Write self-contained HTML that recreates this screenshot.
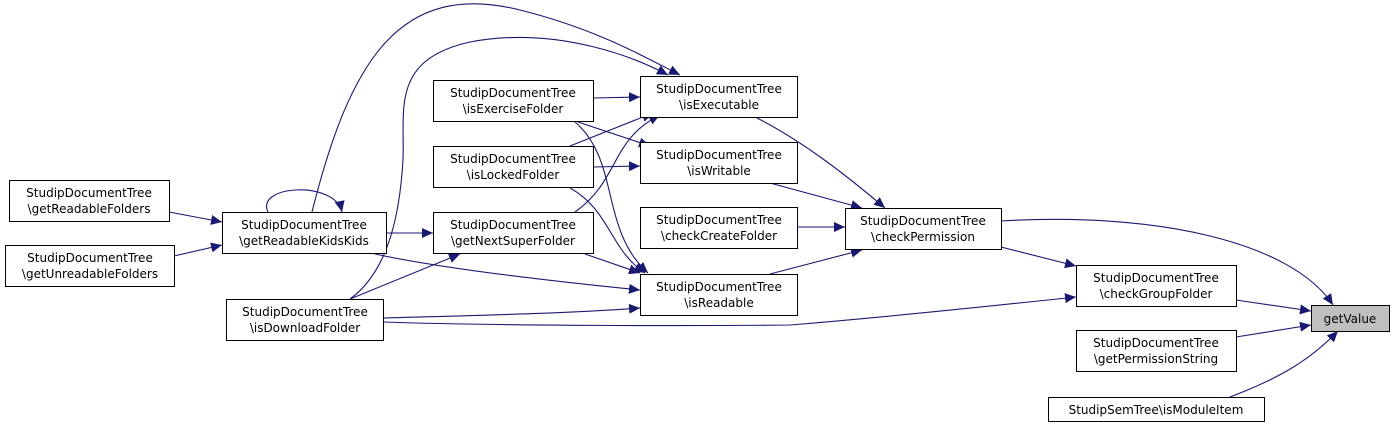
<!DOCTYPE html>
<html><head><meta charset="utf-8"><style>
html,body{margin:0;padding:0;background:#fff;}
svg{display:block;}
text{font-family:"DejaVu Sans","Liberation Sans",sans-serif;font-size:12px;fill:#000;}
</style></head><body>
<svg width="1395" height="428" viewBox="0 0 1395 428" xmlns="http://www.w3.org/2000/svg">
<defs>
<marker id="a" markerUnits="userSpaceOnUse" markerWidth="12" markerHeight="10" refX="11" refY="5" orient="auto">
<path d="M0,0 L11,5 L0,10 Z" fill="#191970"/>
</marker>
</defs>
<g fill="none" stroke="#191970" stroke-width="1.1" marker-end="url(#a)">
<path d="M593,98 L640,97"/>
<path d="M578,122 L650,146"/>
<path d="M575,122 C620,160 600,230 648,273"/>
<path d="M570,146 L653,113"/>
<path d="M593,167 L640,166"/>
<path d="M570,188 C610,210 610,250 645,273"/>
<path d="M575,212 C620,180 610,140 660,115"/>
<path d="M585,254 L640,273"/>
<path d="M386,233 L433,233"/>
<path d="M375,254 C450,270 560,282 640,290"/>
<path d="M268,212 C255,185 335,180 342,212"/>
<path d="M312,212 C350,60 400,-20 520,10 C600,30 650,60 680,75"/>
<path d="M350,299 C390,270 400,210 403,160 C405,110 390,60 470,42 C560,25 640,60 668,75"/>
<path d="M350,299 L460,254"/>
<path d="M383,318 C450,316 560,314 640,308"/>
<path d="M383,322 C500,326 700,326 790,325 C900,316 1000,305 1076,297"/>
<path d="M169,212 L222,222"/>
<path d="M174,256 L222,245"/>
<path d="M757,118 C800,140 840,170 885,208"/>
<path d="M770,183 L862,208"/>
<path d="M797,227 L845,227"/>
<path d="M770,274 L862,250"/>
<path d="M1001,221 C1150,212 1290,240 1333,305"/>
<path d="M1001,247 L1076,266"/>
<path d="M1236,300 L1311,311"/>
<path d="M1236,337 L1311,325"/>
<path d="M1230,397 C1280,378 1310,360 1338,331"/>
</g>
<g stroke="#000" stroke-width="1" fill="#fff">
<rect x="433.5" y="80.5" width="160" height="41"/>
<rect x="433.5" y="146.5" width="160" height="41"/>
<rect x="433.5" y="212.5" width="160" height="41"/>
<rect x="640.5" y="76.5" width="157" height="41"/>
<rect x="640.5" y="142.5" width="157" height="41"/>
<rect x="640.5" y="207.5" width="157" height="41"/>
<rect x="640.5" y="274.5" width="157" height="41"/>
<rect x="845.5" y="208.5" width="156" height="41"/>
<rect x="1076.5" y="265.5" width="160" height="41"/>
<rect x="1076.5" y="330.5" width="160" height="41"/>
<rect x="1048.5" y="397.5" width="216" height="24"/>
<rect x="1311.5" y="305.5" width="78" height="26" fill="#bfbfbf"/>
<rect x="222.5" y="212.5" width="164" height="41"/>
<rect x="226.5" y="299.5" width="157" height="41"/>
<rect x="9.5" y="180.5" width="160" height="41"/>
<rect x="5.5" y="245.5" width="169" height="41"/>
</g>
<g text-anchor="middle">
<text x="513" y="97">StudipDocumentTree</text><text x="513" y="113">\isExerciseFolder</text>
<text x="513" y="163">StudipDocumentTree</text><text x="513" y="179">\isLockedFolder</text>
<text x="513" y="229">StudipDocumentTree</text><text x="513" y="245">\getNextSuperFolder</text>
<text x="719" y="93">StudipDocumentTree</text><text x="719" y="109">\isExecutable</text>
<text x="719" y="159">StudipDocumentTree</text><text x="719" y="175">\isWritable</text>
<text x="719" y="224">StudipDocumentTree</text><text x="719" y="240">\checkCreateFolder</text>
<text x="719" y="291">StudipDocumentTree</text><text x="719" y="307">\isReadable</text>
<text x="923" y="225">StudipDocumentTree</text><text x="923" y="241">\checkPermission</text>
<text x="1156" y="282">StudipDocumentTree</text><text x="1156" y="298">\checkGroupFolder</text>
<text x="1156" y="347">StudipDocumentTree</text><text x="1156" y="363">\getPermissionString</text>
<text x="1156" y="414">StudipSemTree\isModuleItem</text>
<text x="1350" y="323">getValue</text>
<text x="304" y="229">StudipDocumentTree</text><text x="304" y="245">\getReadableKidsKids</text>
<text x="305" y="316">StudipDocumentTree</text><text x="305" y="332">\isDownloadFolder</text>
<text x="89" y="197">StudipDocumentTree</text><text x="89" y="213">\getReadableFolders</text>
<text x="90" y="262">StudipDocumentTree</text><text x="90" y="278">\getUnreadableFolders</text>
</g>
</svg>
</body></html>
